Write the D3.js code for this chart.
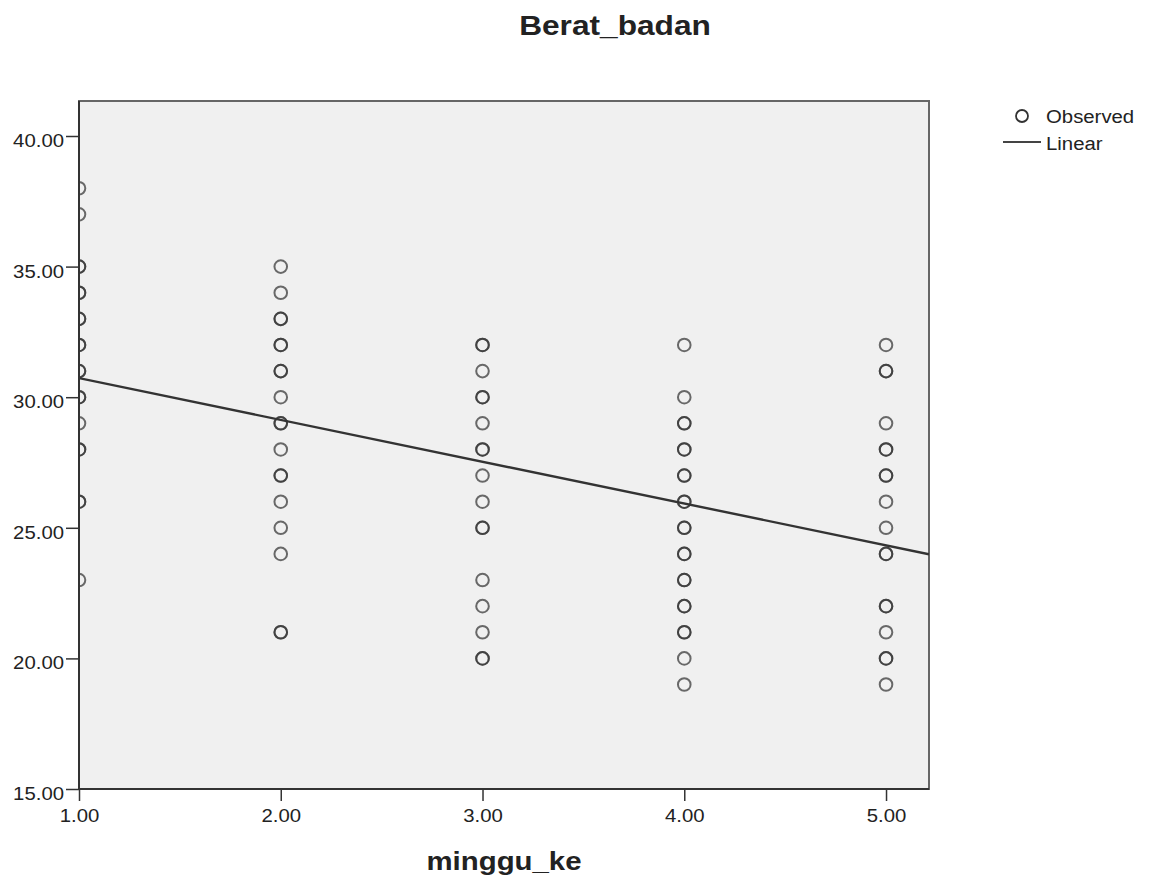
<!DOCTYPE html>
<html>
<head>
<meta charset="utf-8">
<script src="https://cdn.jsdelivr.net/npm/d3@7"></script>
<style>
  body { margin: 0; background: #fff; }
  text { font-family: "Liberation Sans", Arial, sans-serif; fill: #222; }
</style>
</head>
<body>
<div id="chart"></div>
<script>
// Observed weights (Berat_badan) per week (minggu_ke); repeated values are overlapping points
const week1 = [38, 37, 35, 35, 34, 34, 33, 33, 32, 32, 31, 31, 30, 30, 29, 28, 28, 26, 26, 23];
const week2 = [35, 34, 33, 33, 32, 32, 31, 31, 30, 29, 29, 28, 27, 27, 26, 25, 24, 21, 21];
const week3 = [32, 32, 31, 30, 30, 29, 28, 28, 27, 26, 25, 25, 23, 22, 21, 20, 20];
const week4 = [32, 30, 29, 29, 28, 28, 27, 27, 26, 26, 25, 25, 24, 24, 23, 23, 22, 22, 21, 21, 20, 19];
const week5 = [32, 31, 31, 29, 28, 28, 27, 27, 26, 25, 24, 24, 22, 22, 21, 20, 20, 19];
const weeks = [1, 2, 3, 4, 5];

// Linear fit
const linearIntercept = 32.33;
const linearSlope = -1.6;

const xTicks = [1, 2, 3, 4, 5];
const yTicks = [15, 20, 25, 30, 35, 40];

const margin = { top: 101, right: 222, bottom: 92, left: 79 };
const width = 1151 - margin.left - margin.right;
const height = 881 - margin.top - margin.bottom;
const stretch = 1.13; // chart text is a little wider than the font

const points = [week1, week2, week3, week4, week5]
    .flatMap((vals, i) => vals.map(v => ({ x: weeks[i], y: v })));

const svgRoot = d3.select("#chart").append("svg")
    .attr("width", 1151)
    .attr("height", 881);

const svg = svgRoot.append("g")
    .attr("transform", `translate(${margin.left},${margin.top})`);

const xScale = d3.scaleLinear().domain([1, 5.213]).range([0, width]);
const yScale = d3.scaleLinear().domain([15, 41.34]).range([height, 0]);

// widen a text element horizontally
function widen(sel) {
    sel.each(function () {
        const w = this.getComputedTextLength();
        d3.select(this).attr("textLength", w * stretch).attr("lengthAdjust", "spacingAndGlyphs");
    });
}

// plot background
svg.append("rect")
    .attr("width", width).attr("height", height)
    .attr("fill", "#f0f0f0")
    .attr("stroke", "#666").attr("stroke-width", 2);

svg.append("defs").append("clipPath").attr("id", "plotClip")
    .append("rect").attr("width", width).attr("height", height);

const plot = svg.append("g").attr("clip-path", "url(#plotClip)");

// observed points
plot.selectAll("circle").data(points).enter().append("circle")
    .attr("cx", d => xScale(d.x))
    .attr("cy", d => yScale(d.y))
    .attr("r", 6.3)
    .attr("fill", "none")
    .attr("stroke", "#333")
    .attr("stroke-opacity", 0.72)
    .attr("stroke-width", 2);

// linear fit line
const line = d3.line().x(d => xScale(d)).y(d => yScale(linearIntercept + linearSlope * d));
plot.append("path").datum(xScale.domain())
    .attr("fill", "none").attr("stroke", "#333").attr("stroke-width", 2.4)
    .attr("d", line);

// axes
const xAxis = d3.axisBottom(xScale).tickValues(xTicks).tickFormat(d3.format(".2f")).tickSize(12).tickPadding(8);
const yAxis = d3.axisLeft(yScale).tickValues(yTicks).tickFormat(d3.format(".2f")).tickSize(13).tickPadding(2);

const gx = svg.append("g").attr("transform", `translate(0,${height})`).call(xAxis);
gx.select(".domain").attr("stroke", "#333").attr("stroke-width", 2).attr("d", `M0,0H${width}`);
gx.selectAll(".tick line").attr("stroke", "#333").attr("stroke-width", 1.5);
gx.selectAll("text").style("font-size", "18px").attr("fill", "#222").call(widen);

const gy = svg.append("g").call(yAxis);
gy.select(".domain").attr("stroke", "#333").attr("stroke-width", 2).attr("d", `M0,${height}V0`);
gy.selectAll(".tick line").attr("stroke", "#333").attr("stroke-width", 1.5);
gy.selectAll("text").style("font-size", "18px").attr("fill", "#222").attr("dy", "0.58em").call(widen);

// title and axis label
svgRoot.append("text")
    .attr("x", 615).attr("y", 35)
    .attr("text-anchor", "middle")
    .style("font-size", "28px").style("font-weight", "bold").attr("fill", "#111")
    .text("Berat_badan").call(widen);

svgRoot.append("text")
    .attr("x", 504).attr("y", 870)
    .attr("text-anchor", "middle")
    .style("font-size", "26px").style("font-weight", "bold").attr("fill", "#111")
    .text("minggu_ke").call(widen);

// legend
const legend = svgRoot.append("g").attr("transform", "translate(1003,0)");
legend.append("circle")
    .attr("cx", 19).attr("cy", 116).attr("r", 6)
    .attr("fill", "none").attr("stroke", "#333").attr("stroke-width", 1.8);
legend.append("text")
    .attr("x", 43).attr("y", 123)
    .style("font-size", "18px")
    .text("Observed").call(widen);
legend.append("line")
    .attr("x1", 0).attr("x2", 38).attr("y1", 142).attr("y2", 142)
    .attr("stroke", "#444").attr("stroke-width", 2);
legend.append("text")
    .attr("x", 43).attr("y", 150)
    .style("font-size", "18px")
    .text("Linear").call(widen);
</script>
</body>
</html>
